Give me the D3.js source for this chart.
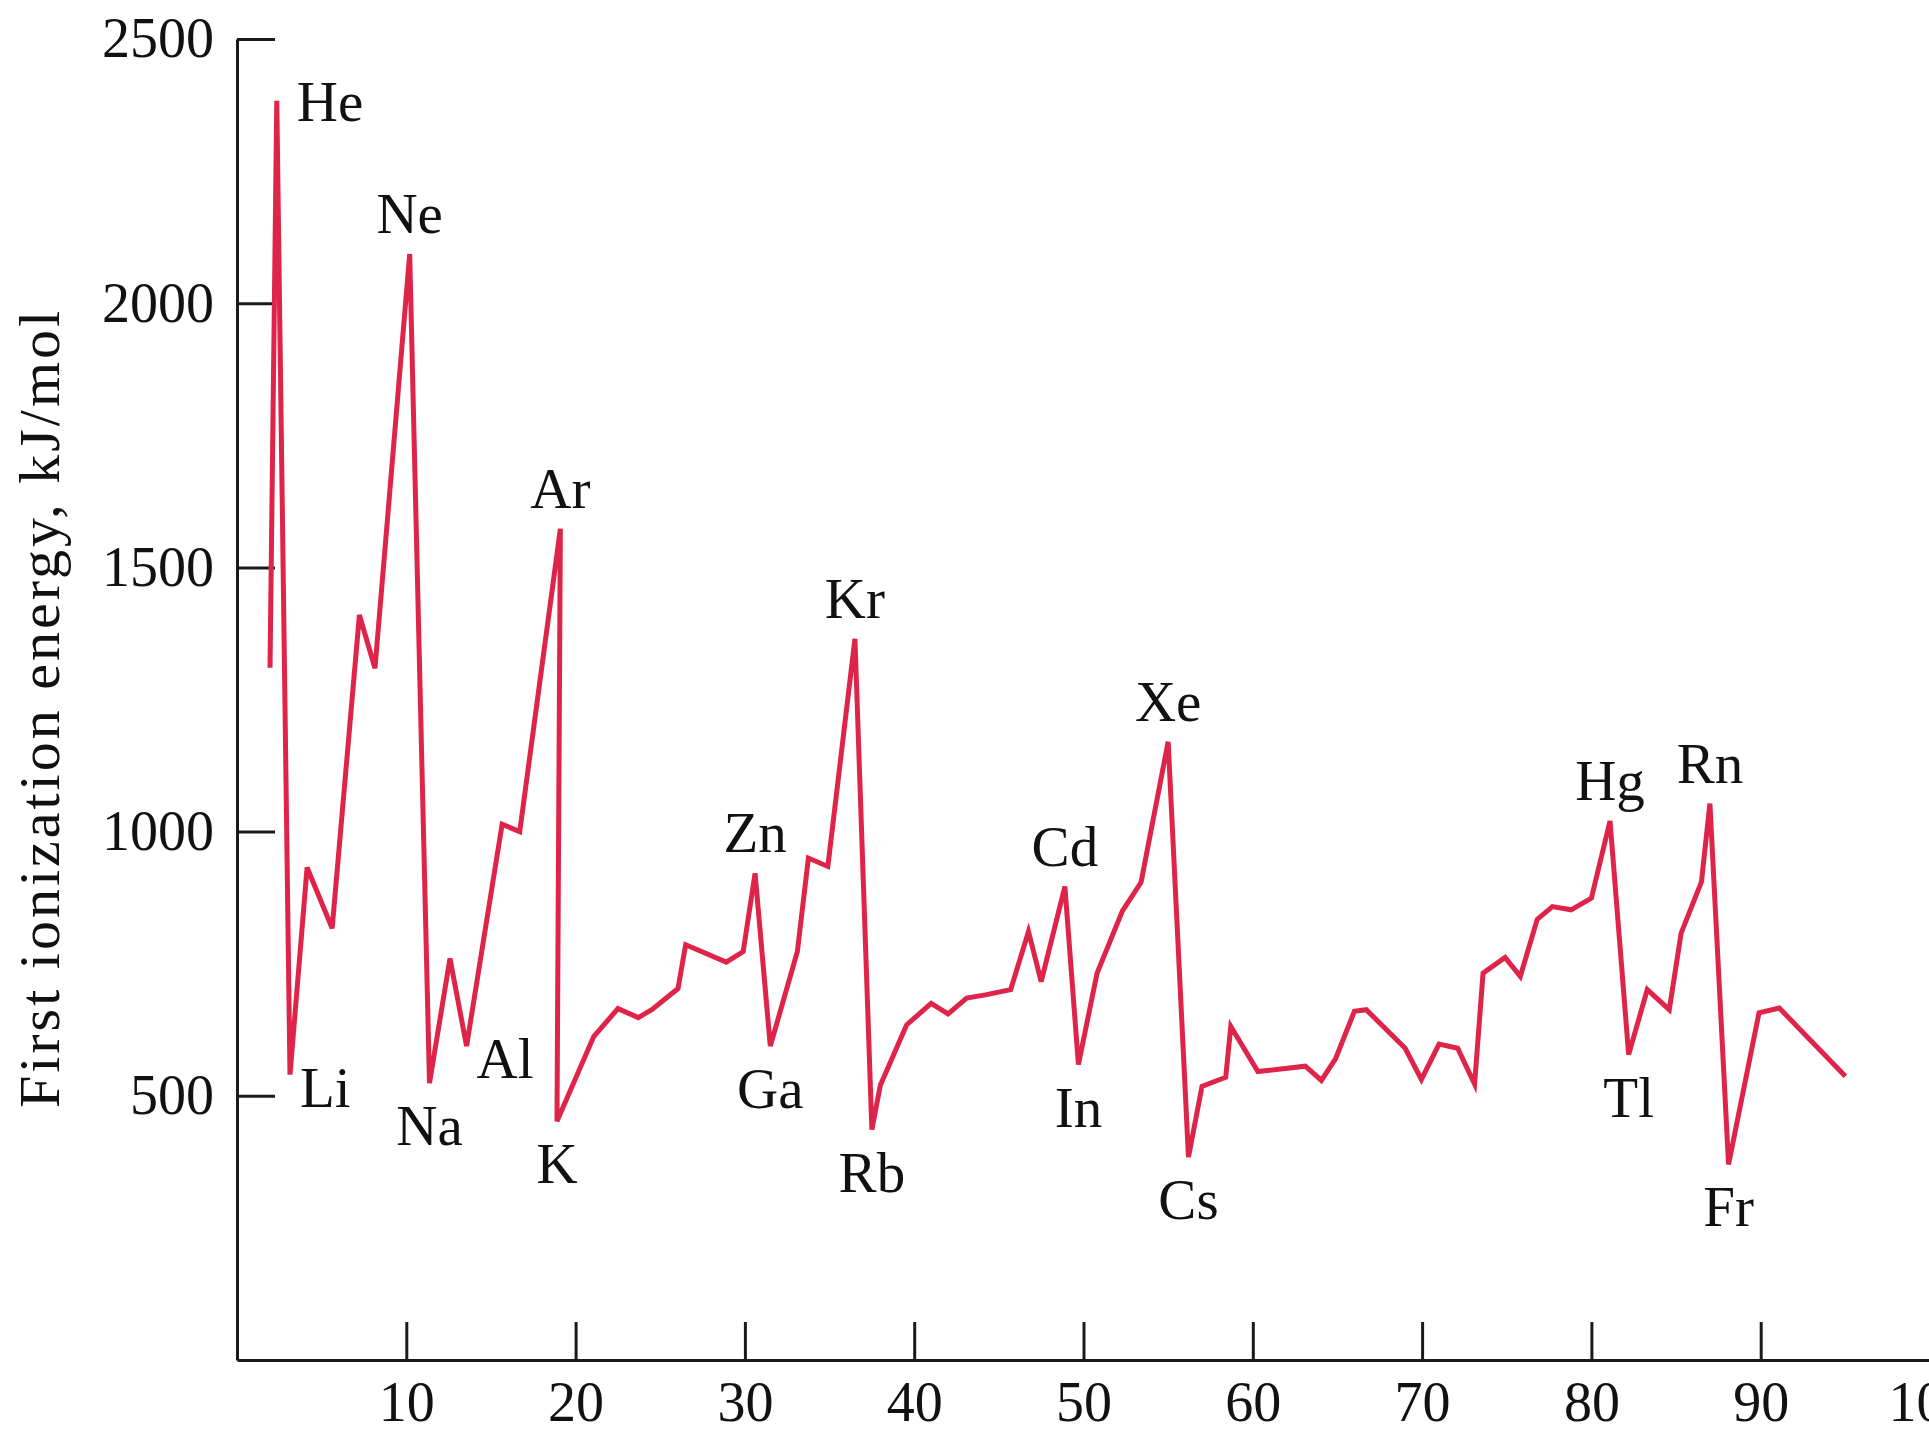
<!DOCTYPE html>
<html>
<head>
<meta charset="utf-8">
<script src="https://cdn.jsdelivr.net/npm/d3@7"></script>
<style>
  html, body { margin: 0; padding: 0; background: #fff; }
  svg { display: block; }
  text { font-family: "Liberation Serif", "Times New Roman", serif; fill: #111; }
</style>
</head>
<body>
<div id="chart"></div>
<script>
// atomic number as drawn, first ionization energy (kJ/mol)
var atomicNumbers = [1.95, 2.35, 3.13, 4.14, 5.62, 7.23, 8.15, 10.2, 11.37, 12.58,
    13.56, 15.66, 16.7, 19.1, 18.9, 21.07, 22.5, 23.7, 24.5, 26.05,
    26.5, 28.9, 29.9, 30.6, 31.5, 33.1, 33.75, 34.9, 36.5, 37.5,
    38.0, 39.55, 41.0, 42.0, 43.1, 44.2, 45.7, 46.75, 47.5, 48.9,
    49.7, 50.8, 52.3, 53.4, 55.0, 56.2, 57.0, 58.4, 58.7, 60.3,
    63.1, 64.05, 64.9, 66.0, 66.7, 69.0, 69.96, 71.0, 72.1, 73.1,
    73.6, 74.9, 75.8, 76.8, 77.7, 78.8, 80.0, 81.1, 82.2, 83.3,
    84.6, 85.3, 86.5, 87.0, 88.1, 89.9, 91.1, 95.0];
var energies = [1310, 2383, 540, 932, 817, 1410, 1309, 2093, 524, 760,
    594, 1014, 1000, 1573, 452, 612, 665, 648, 663, 703,
    786, 753, 773, 921, 594, 773, 950, 934, 1365, 436,
    520, 634, 675, 655, 685, 691, 701, 811, 716, 896,
    559, 732, 850, 904, 1170, 384, 518, 535, 631, 546,
    556, 529, 571, 660, 663, 590, 531, 598, 590, 522,
    732, 762, 726, 834, 858, 852, 874, 1020, 578, 701,
    663, 808, 905, 1053, 370, 657, 666, 537];

// element labels: symbol, index of the point it names, side of the point
var labelSymbols = ["He", "Li", "Ne", "Na", "Al", "Ar", "K", "Zn", "Ga", "Kr",
    "Rb", "Cd", "In", "Xe", "Cs", "Hg", "Tl", "Rn", "Fr"];
var labelPoints = [1, 2, 7, 8, 10, 13, 14, 23, 24, 28,
    29, 39, 40, 44, 45, 67, 68, 73, 74];
var labelSides = ["right", "rightBelow", "above", "below", "rightBelow", "above", "below", "above", "below", "above",
    "below", "above", "below", "above", "below", "above", "below", "above", "below"];

var yTicks = [500, 1000, 1500, 2000, 2500];
var xTicks = [10, 20, 30, 40, 50, 60, 70, 80, 90, 100];

var width = 1929, height = 1432;
var lineColor = "#df2449";

var svg = d3.select("#chart").append("svg")
    .attr("width", width)
    .attr("height", height);

var x = d3.scaleLinear().domain([0, 100]).range([237, 1930]);
var y = d3.scaleLinear().domain([0, 2500]).range([1360, 39]);

// y axis, ticks point into the plot
var yAxis = svg.append("g")
    .attr("transform", "translate(" + x(0) + ",0)")
    .call(d3.axisLeft(y).tickValues(yTicks).tickFormat(d3.format("d"))
        .tickSize(-38).tickSizeOuter(0).tickPadding(23));

// x axis
var xAxis = svg.append("g")
    .attr("transform", "translate(0," + y(0) + ")")
    .call(d3.axisBottom(x).tickValues(xTicks).tickFormat(d3.format("d"))
        .tickSize(-38).tickSizeOuter(0).tickPadding(21));

[yAxis, xAxis].forEach(function(g) {
    g.selectAll("path, line").attr("stroke", "#1a1a1a").attr("stroke-width", 3);
    g.selectAll("text").attr("font-size", 56).attr("font-family", null).style("fill", "#111");
});

svg.append("text")
    .attr("transform", "translate(59," + 708 + ") rotate(-90)")
    .attr("text-anchor", "middle")
    .attr("font-size", 58)
    .attr("letter-spacing", 3)
    .text("First ionization energy, kJ/mol");

var points = atomicNumbers.map(function(z, i) { return [z, energies[i]]; });

var line = d3.line()
    .x(function(d) { return x(d[0]); })
    .y(function(d) { return y(d[1]); });

svg.append("path")
    .datum(points)
    .attr("fill", "none")
    .attr("stroke", lineColor)
    .attr("stroke-width", 5)
    .attr("stroke-linejoin", "miter")
    .attr("d", line);

// where each label goes relative to its point
function labelPos(side, px, py) {
    if (side == "above") return { x: px, y: py - 21, anchor: "middle" };
    if (side == "below") return { x: px, y: py + 62, anchor: "middle" };
    if (side == "right") return { x: px + 20, y: py + 20, anchor: "start" };
    return { x: px + 10, y: py + 32, anchor: "start" };
}

labelSymbols.forEach(function(sym, i) {
    var p = points[labelPoints[i]];
    var pos = labelPos(labelSides[i], x(p[0]), y(p[1]));
    svg.append("text")
        .attr("x", pos.x)
        .attr("y", pos.y)
        .attr("text-anchor", pos.anchor)
        .attr("font-size", 57)
        .text(sym);
});
</script>
</body>
</html>
